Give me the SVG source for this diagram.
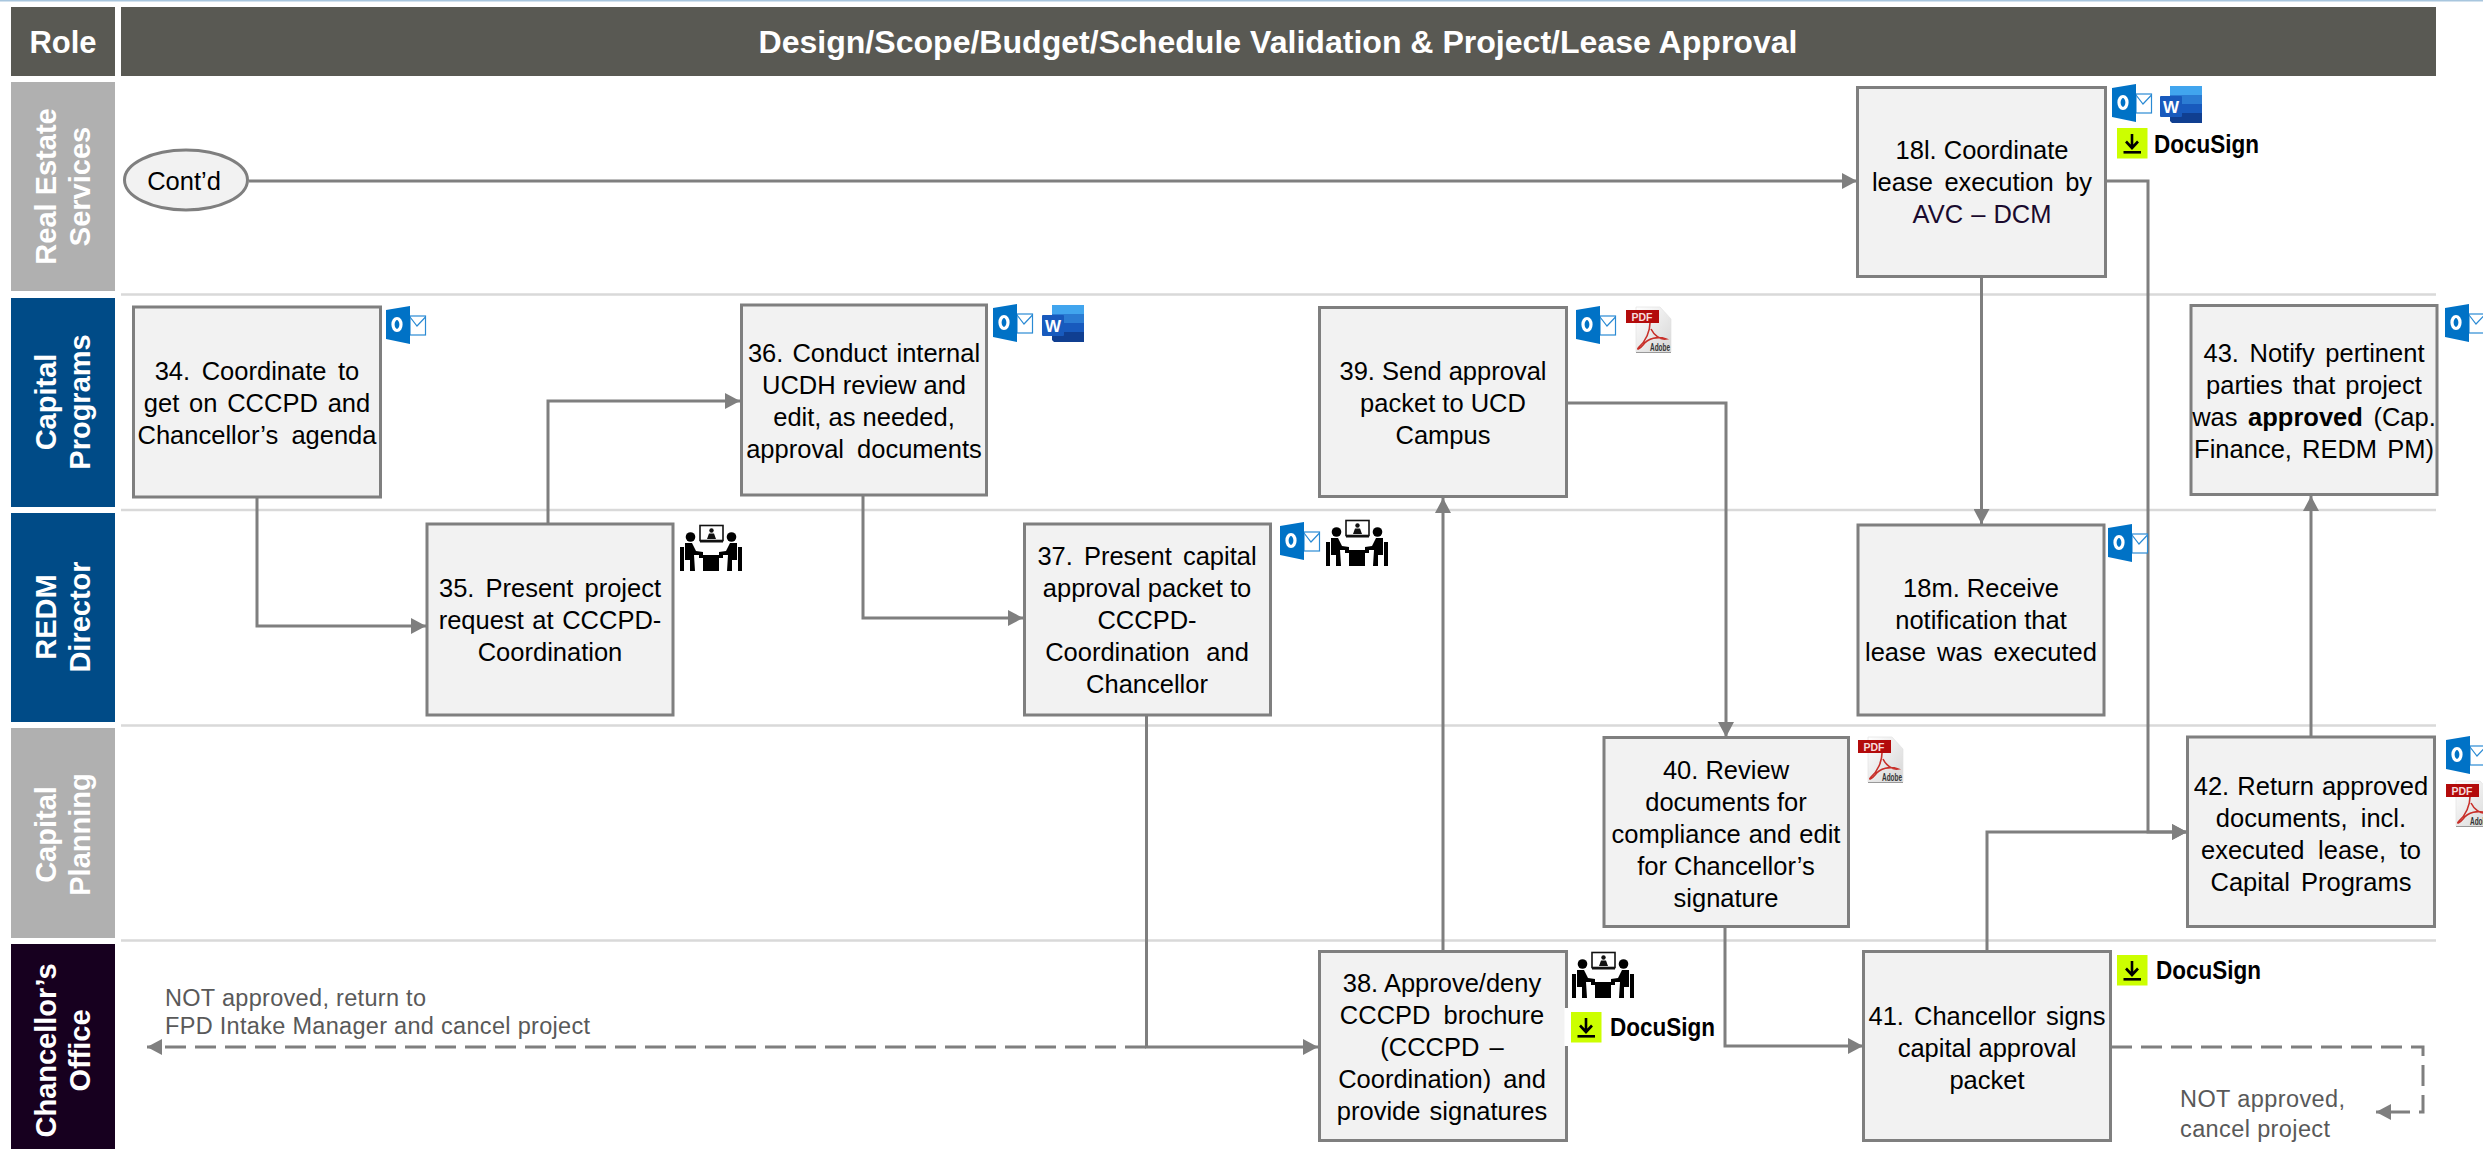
<svg xmlns="http://www.w3.org/2000/svg" xmlns:xlink="http://www.w3.org/1999/xlink" width="2483" height="1149" viewBox="0 0 2483 1149">
<style>
text{font-family:"Liberation Sans",Arial,sans-serif}
.t{font-size:25.5px;fill:#000;text-anchor:middle}
.box{fill:#f2f2f2;stroke:#7f7f7f;stroke-width:3}
.lane{font-size:29px;font-weight:bold;fill:#fff;text-anchor:middle}
.hd{font-weight:bold;fill:#fff;text-anchor:middle}
.sep{stroke:#d9d9d9;stroke-width:2.5;fill:none}
.c{fill:none;stroke:#7f7f7f;stroke-width:3}
.d{stroke-dasharray:21 9}
.n{font-size:23.5px;fill:#595959}
.ds{font-size:25px;font-weight:bold;fill:#000}
</style>
<defs>
<marker id="a" markerUnits="userSpaceOnUse" markerWidth="16" markerHeight="16" refX="15" refY="8" orient="auto"><path d="M0 0L15 8L0 16Z" fill="#7f7f7f"/></marker>
<symbol id="outlook" width="40" height="38" viewBox="0 0 40 38" overflow="visible">
<rect x="24" y="10" width="15.5" height="19" fill="#fff" stroke="#2a8ad4" stroke-width="1.2"/>
<path d="M24 11L31 20L39.5 11" fill="none" stroke="#2a8ad4" stroke-width="1.2"/>
<path d="M0 4L24 0V38L0 33Z" fill="#0072c6"/>
<ellipse cx="11" cy="18.5" rx="4" ry="6" fill="none" stroke="#fff" stroke-width="3.2"/>
</symbol>
<symbol id="word" width="42" height="37" viewBox="0 0 42 37" overflow="visible">
<path d="M10 0H42V9H10Z" fill="#41a5ee"/><path d="M10 9H42V18H10Z" fill="#2b7cd3"/><path d="M10 18H42V27H10Z" fill="#185abd"/><path d="M10 27H42V37H12L10 35Z" fill="#103f91"/>
<rect x="0" y="10" width="22" height="21" rx="1" fill="#185abd"/>
<text x="11" y="26.5" font-size="17" font-weight="bold" fill="#fff" text-anchor="middle">W</text>
</symbol>
<linearGradient id="pg" x1="0" y1="0" x2="1" y2="1"><stop offset="0" stop-color="#fff"/><stop offset="1" stop-color="#d6d6d6"/></linearGradient>
<symbol id="pdf" width="45" height="46" viewBox="0 0 45 46" overflow="visible">
<path d="M10 0H34L45 12V45H10Z" fill="url(#pg)" stroke="#e2e2e2" stroke-width=".7"/>
<path d="M10 45.5H45" stroke="#999" stroke-width="1"/>
<rect x="0" y="3" width="33" height="13" fill="#b30b0b"/>
<text x="16" y="13.5" font-size="10.5" font-weight="bold" fill="#f6dada" text-anchor="middle">PDF</text>
<path d="M24 16C24 24 20 34 13 40C10 43 13 43 17 38C22 31 32 29 40 32C34 33 28 28 25 22" fill="none" stroke="#c8302a" stroke-width="1.6"/>
<text x="24" y="44" font-size="10.5" font-weight="bold" fill="#333" textLength="20" lengthAdjust="spacingAndGlyphs">Adobe</text>
</symbol>
<symbol id="meet" width="62" height="47" viewBox="0 0 62 47" overflow="visible">
<rect x="20" y="1.5" width="23" height="15" fill="#fff" stroke="#111" stroke-width="1.6"/>
<rect x="20" y="17" width="23" height="1.5" fill="#111"/>
<circle cx="31.5" cy="6.5" r="2.2" fill="#111"/><path d="M27 15L29 9.5H34L36 15Z" fill="#111"/>
<circle cx="10.5" cy="13" r="4.8" fill="#000"/><circle cx="51.5" cy="13" r="4.8" fill="#000"/>
<path d="M5 19H12L16 27L23 28V31H14L15 47H10V36H4V47H0V23H4V36H5Z" fill="#000"/>
<path d="M57 19H50L46 27L39 28V31H48L47 47H52V36H58V47H62V23H58V36H57Z" fill="#000"/>
<path d="M19 31H43V34H39V47H23V34H19Z" fill="#000"/>
</symbol>
<symbol id="docu" width="30" height="30" viewBox="0 0 30 30" overflow="visible">
<rect width="30.5" height="30.5" fill="#ccff00"/>
<path d="M15 6V19M9 13.5L15 20L21 13.5" fill="none" stroke="#000" stroke-width="2.6"/>
<rect x="6.5" y="23" width="17.5" height="2.6" fill="#000"/>
</symbol>
</defs>
<rect width="2483" height="1149" fill="#fff"/>
<rect width="2483" height="1.5" fill="#a8c6de"/>

<g id="header">
<rect x="11" y="7" width="104" height="69" fill="#595953"/>
<text class="hd" x="63" y="53" font-size="31">Role</text>
<rect x="121" y="7" width="2315" height="69" fill="#595953"/>
<text class="hd" x="1278" y="53" font-size="32" textLength="1039" lengthAdjust="spacingAndGlyphs">Design/Scope/Budget/Schedule Validation &amp; Project/Lease Approval</text>
</g>

<g id="lanes">
<g id="lane-real-estate"><rect x="11" y="82" width="104" height="209" fill="#b0b0b0"/>
<text class="lane" transform="translate(56 186.5) rotate(-90)">Real Estate</text><text class="lane" transform="translate(90 186.5) rotate(-90)">Services</text></g>
<g id="lane-capital-programs"><rect x="11" y="298" width="104" height="209" fill="#004b87"/>
<text class="lane" transform="translate(56 402) rotate(-90)">Capital</text><text class="lane" transform="translate(90 402) rotate(-90)">Programs</text></g>
<g id="lane-redm"><rect x="11" y="513" width="104" height="209" fill="#004b87"/>
<text class="lane" transform="translate(56 617) rotate(-90)">REDM</text><text class="lane" transform="translate(90 617) rotate(-90)">Director</text></g>
<g id="lane-capital-planning"><rect x="11" y="728" width="104" height="210" fill="#b0b0b0"/>
<text class="lane" transform="translate(56 834.5) rotate(-90)">Capital</text><text class="lane" transform="translate(90 834.5) rotate(-90)">Planning</text></g>
<g id="lane-chancellor"><rect x="11" y="944" width="104" height="205" fill="#17001f"/>
<text class="lane" transform="translate(56 1050.5) rotate(-90)">Chancellor’s</text><text class="lane" transform="translate(90 1050.5) rotate(-90)">Office</text></g>
<path class="sep" d="M121 294.5H2436M121 510H2436M121 725.5H2436M121 940.5H2436"/>
</g>

<g id="connectors">
<path class="c" marker-end="url(#a)" d="M249 181H1857"/>
<path class="c" marker-end="url(#a)" d="M1981.5 277V524"/>
<path class="c" marker-end="url(#a)" d="M2107 181H2148V832H2187"/>
<path class="c" marker-end="url(#a)" d="M1987 951V832H2187"/>
<path class="c" marker-end="url(#a)" d="M2311 737V496"/>
<path class="c" marker-end="url(#a)" d="M257 497V626H426"/>
<path class="c" marker-end="url(#a)" d="M548 523V401H740"/>
<path class="c" marker-end="url(#a)" d="M863 496V618H1023"/>
<path class="c" marker-end="url(#a)" d="M1146.5 716V1047H1318"/>
<path class="c" marker-end="url(#a)" d="M1443 951V498"/>
<path class="c" marker-end="url(#a)" d="M1567 403H1726V737"/>
<path class="c" marker-end="url(#a)" d="M1725 928V1046H1863"/>
<path class="c d" marker-end="url(#a)" d="M1146 1047H147"/>
<path class="c d" marker-end="url(#a)" d="M2111 1047H2423V1112H2376"/>
</g>

<g id="start-contd"><ellipse class="box" cx="186" cy="180" rx="61.5" ry="30"/><text class="t" x="184" y="190">Cont’d</text></g>

<g id="n34"><rect class="box" x="133.5" y="307" width="247" height="190"/><text class="t"><tspan x="257" y="380" word-spacing="4.5">34. Coordinate to</tspan><tspan x="257" y="412" word-spacing="2.7">get on CCCPD and</tspan><tspan x="257" y="444" word-spacing="6">Chancellor’s agenda</tspan></text><use href="#outlook" x="386" y="306"/></g>
<g id="n35"><rect class="box" x="427" y="524" width="246" height="191"/><text class="t"><tspan x="550" y="597" word-spacing="4">35. Present project</tspan><tspan x="550" y="629" word-spacing="1.5">request at CCCPD-</tspan><tspan x="550" y="661">Coordination</tspan></text><use href="#meet" x="680" y="524"/></g>
<g id="n36"><rect class="box" x="741.5" y="305" width="245" height="190"/><text class="t"><tspan x="864" y="362" word-spacing="2">36. Conduct internal</tspan><tspan x="864" y="394">UCDH review and</tspan><tspan x="864" y="426">edit, as needed,</tspan><tspan x="864" y="458" word-spacing="6">approval documents</tspan></text><use href="#outlook" x="993" y="304"/><use href="#word" x="1042" y="305"/></g>
<g id="n37"><rect class="box" x="1024.5" y="524" width="246" height="191"/><text class="t"><tspan x="1147" y="565" word-spacing="4">37. Present capital</tspan><tspan x="1147" y="597">approval packet to</tspan><tspan x="1147" y="629">CCCPD-</tspan><tspan x="1147" y="661" word-spacing="9.5">Coordination and</tspan><tspan x="1147" y="693">Chancellor</tspan></text><use href="#outlook" x="1280" y="522"/><use href="#meet" x="1326" y="519"/></g>
<g id="n38"><rect class="box" x="1319.5" y="951.5" width="247" height="189"/><rect x="1564.5" y="1008" width="6" height="38" fill="#fff"/><text class="t"><tspan x="1442" y="992">38. Approve/deny</tspan><tspan x="1442" y="1024" word-spacing="6">CCCPD brochure</tspan><tspan x="1442" y="1056" word-spacing="3">(CCCPD –</tspan><tspan x="1442" y="1088" word-spacing="5">Coordination) and</tspan><tspan x="1442" y="1120" word-spacing="2">provide signatures</tspan></text><use href="#meet" x="1572" y="951"/><use href="#docu" x="1571" y="1012"/><text class="ds" x="1610" y="1036" textLength="105" lengthAdjust="spacingAndGlyphs">DocuSign</text></g>
<g id="n39"><rect class="box" x="1319.5" y="307.5" width="247" height="189"/><text class="t"><tspan x="1443" y="380">39. Send approval</tspan><tspan x="1443" y="412">packet to UCD</tspan><tspan x="1443" y="444">Campus</tspan></text><use href="#outlook" x="1576" y="306"/><use href="#pdf" x="1626" y="307"/></g>
<g id="n40"><rect class="box" x="1604" y="737.5" width="244.5" height="189"/><text class="t"><tspan x="1726" y="779">40. Review</tspan><tspan x="1726" y="811">documents for</tspan><tspan x="1726" y="843" word-spacing="1">compliance and edit</tspan><tspan x="1726" y="875">for Chancellor’s</tspan><tspan x="1726" y="907">signature</tspan></text><use href="#pdf" x="1858" y="737"/></g>
<g id="n41"><rect class="box" x="1863.5" y="951.5" width="247" height="189"/><text class="t"><tspan x="1987" y="1025" word-spacing="3">41. Chancellor signs</tspan><tspan x="1987" y="1057">capital approval</tspan><tspan x="1987" y="1089">packet</tspan></text><use href="#docu" x="2117" y="955"/><text class="ds" x="2156" y="979" textLength="105" lengthAdjust="spacingAndGlyphs">DocuSign</text></g>
<g id="n42"><rect class="box" x="2187.5" y="737" width="247" height="189.5"/><text class="t"><tspan x="2311" y="795" word-spacing="1">42. Return approved</tspan><tspan x="2311" y="827" word-spacing="6">documents, incl.</tspan><tspan x="2311" y="859" word-spacing="6.5">executed lease, to</tspan><tspan x="2311" y="891" word-spacing="4">Capital Programs</tspan></text><use href="#outlook" x="2446" y="736"/><use href="#pdf" x="2446" y="781"/></g>
<g id="n43"><rect class="box" x="2191" y="305.5" width="246" height="189"/><text class="t"><tspan x="2314" y="362" word-spacing="3.5">43. Notify pertinent</tspan><tspan x="2314" y="394" word-spacing="3">parties that project</tspan><tspan x="2314" y="426" word-spacing="3.5">was <tspan font-weight="bold">approved</tspan> (Cap.</tspan><tspan x="2314" y="458" word-spacing="3">Finance, REDM PM)</tspan></text><use href="#outlook" x="2445" y="304"/></g>
<g id="n18l"><rect class="box" x="1857.5" y="87.5" width="248" height="189"/><text class="t"><tspan x="1982" y="159">18l. Coordinate</tspan><tspan x="1982" y="191" word-spacing="4.5">lease execution by</tspan><tspan x="1982" y="223" fill="#1a0a2e" word-spacing="1">AVC – DCM</tspan></text><use href="#outlook" x="2112" y="84"/><use href="#word" x="2160" y="86"/><use href="#docu" x="2117" y="128"/><text class="ds" x="2154" y="153" textLength="105" lengthAdjust="spacingAndGlyphs">DocuSign</text></g>
<g id="n18m"><rect class="box" x="1858" y="525" width="246" height="190"/><text class="t"><tspan x="1981" y="597">18m. Receive</tspan><tspan x="1981" y="629">notification that</tspan><tspan x="1981" y="661" word-spacing="4">lease was executed</tspan></text><use href="#outlook" x="2108" y="524"/></g>

<g id="notes">
<text class="n" x="165" y="1006" textLength="261">NOT approved, return to</text>
<text class="n" x="165" y="1034" textLength="425">FPD Intake Manager and cancel project</text>
<text class="n" x="2180" y="1107" textLength="165">NOT approved,</text>
<text class="n" x="2180" y="1137" textLength="150">cancel project</text>
</g>
</svg>
